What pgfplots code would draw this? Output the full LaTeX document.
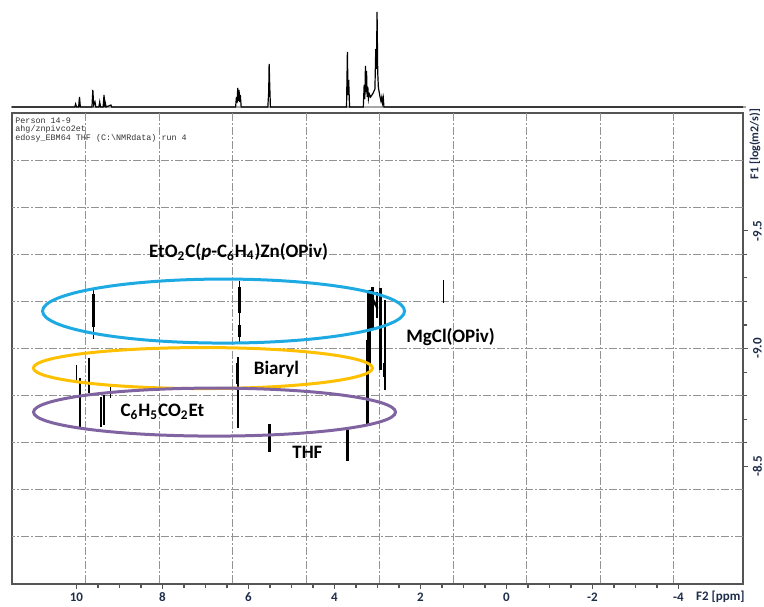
\documentclass[border=0pt]{standalone}
\usepackage{fontspec}
\setmainfont{Carlito}
\setmonofont{Liberation Mono}
\usepackage{pgfplots}
\pgfplotsset{compat=1.18}

\definecolor{ellblue}{HTML}{1DAAE3}
\definecolor{ellorange}{HTML}{FFC000}
\definecolor{ellpurple}{HTML}{8064A2}
\definecolor{ticknavy}{HTML}{1E2D4A}
\definecolor{framegray}{HTML}{555555}

\begin{document}
\begin{tikzpicture}[x=1pt,y=1pt]
\path[use as bounding box] (-6pt,-11pt) rectangle (376pt,292pt);

% ---------- 2D DOSY map ----------
\begin{axis}[
  at={(0pt,0pt)}, anchor=south west, scale only axis,
  width=365.5pt, height=235.5pt,
  xmin=-5.5, xmax=11.5, ymin=-10, ymax=-8,
  x dir=reverse, y dir=reverse,
  axis line style={framegray, line width=0.8pt},
  tick align=outside, xtick pos=bottom, ytick pos=right, yticklabel pos=right,
  xtick={-4,-2,0,2,4,6,8,10}, xticklabels={-4,-2,0,2,4,6,8,10},
  ytick={-9.5,-9,-8.5}, yticklabels={-9.5,-9.0,-8.5},
  minor x tick num=3, minor y tick num=4,
  major tick length=2.4pt, minor tick length=2.2pt,
  tick style={framegray, line width=0.55pt},
  ticklabel style={font=\fontsize{6.5}{7}\selectfont\bfseries, text=ticknavy},
  xticklabel style={anchor=north, inner sep=0pt},
  xticklabel shift=1.8pt,
  yticklabel style={rotate=90, anchor=north, inner sep=0pt},
  yticklabel shift=2.4pt,
  extra x ticks={9.79,8.08,6.37,4.66,2.95,1.24,-0.47,-2.18,-3.89},
  extra x tick labels={},
  extra x tick style={grid=major, major tick length=0pt},
  extra y ticks={-9.8,-9.6,-9.4,-9.2,-9.0,-8.8,-8.6,-8.4,-8.2},
  extra y tick labels={},
  extra y tick style={grid=major, major tick length=0pt},
  major grid style={gray!85, line width=0.45pt, dash pattern=on 4pt off 1pt on 1pt off 1pt},
  clip=false,
]
% contour streaks (ppm, log D)
\addplot[black, line width=0.9pt] coordinates {(10.00,-8.930) (10.00,-8.858)};
\addplot[black, line width=1.0pt] coordinates {(9.93,-8.875) (9.93,-8.662)};
\addplot[black, line width=1.0pt] coordinates {(9.72,-8.960) (9.72,-8.811)};
\addplot[black, line width=0.8pt] coordinates {(9.60,-9.255) (9.60,-9.040)};
\addplot[black, line width=1.7pt] coordinates {(9.60,-9.230) (9.60,-9.090)};
\addplot[black, line width=1.0pt] coordinates {(9.44,-8.794) (9.44,-8.667)};
\addplot[black, line width=1.0pt] coordinates {(9.36,-8.803) (9.36,-8.675)};
\addplot[black, line width=0.8pt] coordinates {(9.21,-8.836) (9.21,-8.790)};
\addplot[black, line width=0.8pt] coordinates {(6.21,-9.285) (6.21,-9.020)};
\addplot[black, line width=1.7pt] coordinates {(6.21,-9.260) (6.21,-9.150)};
\addplot[black, line width=1.4pt] coordinates {(6.21,-9.100) (6.21,-9.050)};
\addplot[black, line width=0.9pt] coordinates {(6.25,-8.964) (6.25,-8.662)};
\addplot[black, line width=1.6pt] coordinates {(6.25,-8.940) (6.25,-8.850)};
\addplot[black, line width=1.3pt] coordinates {(5.51,-8.679) (5.51,-8.561)};
\addplot[black, line width=1.3pt] coordinates {(3.70,-8.667) (3.70,-8.522)};
\addplot[black, line width=1.2pt] coordinates {(3.23,-9.036) (3.23,-8.675)};
\addplot[black, line width=2.0pt] coordinates {(3.19,-9.248) (3.19,-8.930)};
\addplot[black, line width=1.3pt] coordinates {(3.12,-9.261) (3.12,-9.079)};
\addplot[black, line width=1.1pt] coordinates {(3.14,-9.220) (3.00,-9.170)};
\addplot[black, line width=1.1pt] coordinates {(3.02,-9.240) (3.02,-9.130)};
\addplot[black, line width=1.2pt] coordinates {(2.93,-9.257) (2.93,-8.909)};
\addplot[black, line width=0.9pt] coordinates {(2.83,-9.206) (2.83,-8.824)};
\addplot[black, line width=1.5pt] coordinates {(2.84,-8.940) (2.84,-8.880)};
\addplot[black, line width=0.6pt] coordinates {(1.47,-9.291) (1.47,-9.193)};

% species groups
\draw[ellblue, line width=1.5pt] (axis cs:6.58,-9.159) ellipse [x radius=90.5pt, y radius=16pt];
\draw[ellorange, line width=1.5pt] (axis cs:7.06,-8.917) ellipse [x radius=84.75pt, y radius=10.25pt];
\draw[ellpurple, line width=1.5pt] (axis cs:6.79,-8.730) ellipse [x radius=90.5pt, y radius=12pt];

\node[font=\fontsize{9.5}{10}\selectfont\bfseries] at (axis cs:6.23,-9.41)
  {EtO\textsubscript{2}C(\textit{p}-C\textsubscript{6}H\textsubscript{4})Zn(OPiv)};
\node[font=\fontsize{9.5}{10}\selectfont\bfseries] at (axis cs:5.35,-8.913) {Biaryl};
\node[font=\fontsize{9.5}{10}\selectfont\bfseries] at (axis cs:8.0,-8.730)
  {C\textsubscript{6}H\textsubscript{5}CO\textsubscript{2}Et};
\node[font=\fontsize{9.5}{10}\selectfont\bfseries] at (axis cs:4.63,-8.56) {THF};
\node[font=\fontsize{9.5}{10}\selectfont\bfseries] at (axis cs:1.30,-9.049) {MgCl(OPiv)};

% acquisition header
\node[anchor=north west, align=left, inner sep=0pt, text=black!80,
      font=\fontsize{4.2}{3.8}\selectfont\ttfamily]
  at (rel axis cs:0,1) [xshift=1.5pt, yshift=-2.2pt]
  {Person 14-9\\ahg/znpivco2et\\edosy\_EBM64 THF (C:\textbackslash NMRdata) run 4};
\end{axis}

% axis captions
\node[rotate=90, inner sep=0pt, text=ticknavy, font=\fontsize{6}{7}\selectfont\bfseries]
  at (371.5pt,220pt) {F1 [log(m2/s)]};
\node[anchor=east, inner sep=0pt, text=ticknavy, font=\fontsize{6.5}{7}\selectfont\bfseries]
  at (366.5pt,-6.5pt) {F2 [ppm]};

% ---------- 1D projection ----------
\begin{axis}[
  at={(0pt,238.5pt)}, anchor=south west, scale only axis,
  width=365.5pt, height=47.5pt,
  xmin=-5.5, xmax=11.5, x dir=reverse, ymin=0, ymax=95,
  hide axis, clip=false,
]
\addplot[gray!70, line width=1.1pt] coordinates {(11.52,0) (-5.58,0)};
\addplot[black, line width=0.6pt] coordinates {
  (11.5,0) (10.04,0) (10.02,3) (10.00,0) (9.95,0) (9.93,10) (9.91,0)
  (9.64,0) (9.62,17) (9.60,2) (9.57,5) (9.55,0) (9.48,0) (9.46,5) (9.44,0)
  (9.38,0) (9.36,12) (9.34,0) (9.33,4) (9.31,0) (9.20,2) (9.18,0)
  (6.30,0) (6.28,10) (6.265,4) (6.25,19) (6.235,6) (6.22,17) (6.205,5) (6.19,12) (6.17,0)
  (5.55,0) (5.53,15) (5.52,43) (5.505,20) (5.49,0)
  (3.72,0) (3.70,55) (3.685,12) (3.67,27) (3.65,0)
  (3.33,0) (3.31,22) (3.295,8) (3.28,41) (3.27,15) (3.255,36) (3.24,10) (3.225,20)
  (3.21,8) (3.19,13) (3.16,10) (3.10,14) (3.06,18) (3.04,58) (3.025,38) (3.01,95)
  (2.995,35) (2.98,20) (2.95,12) (2.92,6) (2.90,10) (2.885,4) (2.865,9) (2.85,0)
  (-5.5,0)};
\end{axis}
\end{tikzpicture}
\end{document}
